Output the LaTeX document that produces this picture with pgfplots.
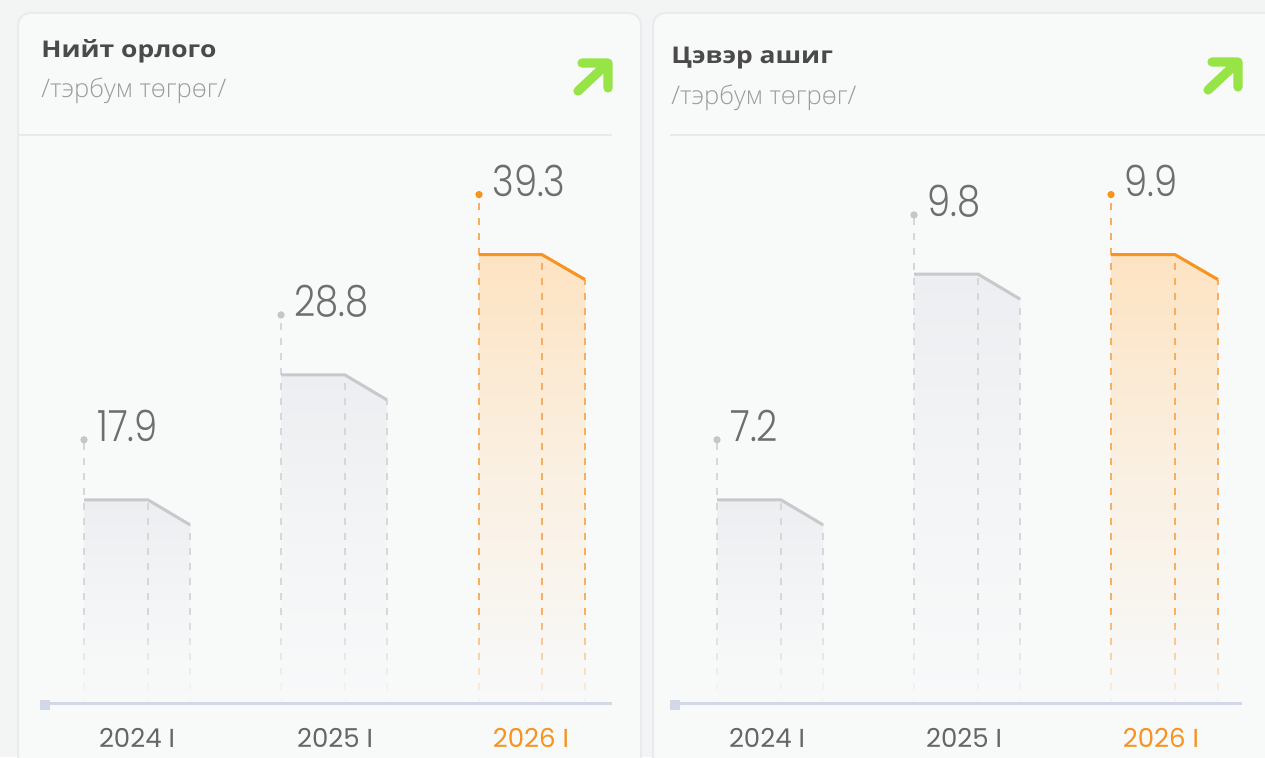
\documentclass[border=0pt]{standalone}
\usepackage{fontspec}
\usepackage{graphicx}
\usepackage{pgfplots}
\pgfplotsset{compat=1.18}
\usetikzlibrary{fadings}
\setmainfont{Open Sans}
\newfontfamily\lightfont{Open Sans Light}
\newfontfamily\numfont{Poppins Light}
\newfontfamily\tickfont{Poppins}

\definecolor{outerbg}{HTML}{F3F4F4}
\definecolor{panelbg}{HTML}{F8F9F9}
\definecolor{panelborder}{HTML}{E8ECEF}
\definecolor{sepcol}{HTML}{E5EAED}
\definecolor{titlecol}{HTML}{4A4A4A}
\definecolor{subcol}{HTML}{9B9B9B}
\definecolor{tickcol}{HTML}{666666}
\definecolor{accent}{HTML}{F7931E}
\definecolor{valcol}{HTML}{6E6E6E}
\definecolor{graystroke}{HTML}{C8C9CC}
\definecolor{grayfill}{HTML}{EDEEF1}
\definecolor{graydash}{HTML}{D6D7D9}
\definecolor{graydot}{HTML}{C6C6C6}
\definecolor{orangestroke}{HTML}{F7931E}
\definecolor{orangefill}{HTML}{FDE3C2}
\definecolor{orangedash}{HTML}{F9AE5E}
\definecolor{orangedot}{HTML}{F7931E}
\definecolor{axiscol}{HTML}{D3D8E8}
\definecolor{arrowgreen}{HTML}{96E445}

\tikzfading[name=fadeup, top color=transparent!100, bottom color=transparent!0]

% #1 xl, #2 xk, #3 xr, #4 h, #5 h at right, #6 dot, #7 label, #8 scheme
\newcommand{\shapebar}[8]{%
  \addplot[draw=none, top color=#8fill, bottom color=panelbg, middle color=#8fill!40!panelbg] coordinates {(#1,#4) (#2,#4) (#3,#5)} \closedcycle;
  \addplot[#8dash, line width=1pt, dash pattern=on 3.5pt off 4pt] coordinates {(#1,0) (#1,#6)};
  \addplot[#8dash, line width=1pt, dash pattern=on 3.5pt off 4pt] coordinates {(#2,0) (#2,#4)};
  \addplot[#8dash, line width=1pt, dash pattern=on 3.5pt off 4pt] coordinates {(#3,0) (#3,#5)};
  \addplot[#8stroke, line width=1.5pt, line join=round] coordinates {(#1,#4) (#2,#4) (#3,#5)};
  \addplot[#8dot, only marks, mark=*, mark size=1.6pt] coordinates {(#1,#6)};
  \node[anchor=west, inner sep=0pt, xshift=6.5pt, yshift=6.8pt, text=valcol] at (axis cs:#1,#6) {\scalebox{0.86}[1]{\fontsize{21.5pt}{24pt}\numfont #7}};
}

\pgfplotsset{panel/.style={
  scale only axis, width=286pt, height=286.5pt,
  xmin=40, xmax=612, ymin=0, ymax=50, clip=false,
  axis line style={draw=none}, ytick=\empty, major tick length=0pt,
  xticklabel style={anchor=center, yshift=-16.5pt, text=tickcol,
    font=\fontsize{13pt}{15pt}\tickfont},
}}

\begin{document}
\begin{tikzpicture}[x=0.5pt, y=0.5pt]
\useasboundingbox (0,0) rectangle (1265,757);
\clip (0,0) rectangle (1265,757);
\fill[outerbg] (0,0) rectangle (1265,757);
% panels
\fill[panelbg, draw=panelborder, line width=1pt, rounded corners=6pt] (18,744) rectangle (641,-63);
\fill[panelbg, draw=panelborder, line width=1pt, rounded corners=6pt] (653,744) rectangle (1320,-63);
\draw[sepcol, line width=1pt] (18,622) -- (612,622);
\draw[sepcol, line width=1pt] (670,622) -- (1265,622);
% titles
\node[anchor=base west, inner sep=0pt, text=titlecol] at (41,699) {\scalebox{1.15}[1]{\fontsize{11.5pt}{13pt}\selectfont\bfseries Нийт орлого}};
\node[anchor=base west, inner sep=0pt, text=subcol] at (41,659) {\fontsize{12.8pt}{14pt}\lightfont /тэрбум төгрөг/};
\node[anchor=base west, inner sep=0pt, text=titlecol] at (671,693) {\scalebox{1.15}[1]{\fontsize{11.5pt}{13pt}\selectfont\bfseries Цэвэр ашиг}};
\node[anchor=base west, inner sep=0pt, text=subcol] at (671,653) {\fontsize{12.8pt}{14pt}\lightfont /тэрбум төгрөг/};
% arrows
\draw[arrowgreen, line width=4.6pt, line cap=round, line join=round] (578,666) -- (608,694) (582,694) -- (608,694) -- (608,669);
\draw[arrowgreen, line width=4.6pt, line cap=round, line join=round] (1208,667) -- (1238,695) (1212,695) -- (1238,695) -- (1238,670);

% Panel 1
\begin{axis}[panel, at={(20pt,26pt)}, anchor=south west,
  xtick={137,335,531}, xticklabels={2024 I,2025 I,{\textcolor{accent}{2026 I}}}]
\shapebar{84}{148}{190}{17.9}{15.72}{23.14}{17.9}{gray}
\shapebar{281}{345}{387}{28.8}{26.62}{34.04}{28.8}{gray}
\shapebar{479}{542}{585}{39.3}{37.12}{44.54}{39.3}{orange}
\fill[panelbg, path fading=fadeup] (axis cs:60,0) rectangle (axis cs:600,8.4);
\fill[axiscol] (axis cs:40,0) rectangle (axis cs:612,0.24);
\fill[axiscol] (axis cs:40,-0.44) rectangle (axis cs:50,0.44);
\end{axis}

% Panel 2
\begin{axis}[panel, at={(336.5pt,26pt)}, anchor=south west,
  xtick={134,331,528}, xticklabels={2024 I,2025 I,{\textcolor{accent}{2026 I}}}]
\shapebar{84}{148}{190}{17.9}{15.72}{23.14}{7.2}{gray}
\shapebar{281}{345}{387}{37.6}{35.42}{42.76}{9.8}{gray}
\shapebar{478}{542}{585}{39.3}{37.12}{44.54}{9.9}{orange}
\fill[panelbg, path fading=fadeup] (axis cs:60,0) rectangle (axis cs:600,8.4);
\fill[axiscol] (axis cs:37,0) rectangle (axis cs:609,0.24);
\fill[axiscol] (axis cs:37,-0.44) rectangle (axis cs:47,0.44);
\end{axis}
\end{tikzpicture}
\end{document}
